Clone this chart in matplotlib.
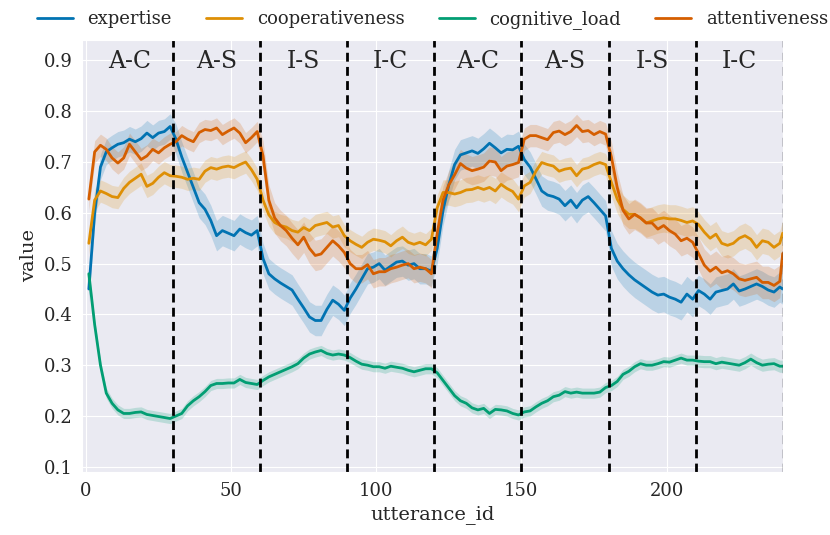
import numpy as np
import matplotlib
matplotlib.use("Agg")
import matplotlib.pyplot as plt
import seaborn as sns

# ---------------- data ----------------
utterance_id = list(range(1, 240, 2)) + [240]

expertise = [
    0.45, 0.60, 0.69, 0.72, 0.728, 0.735, 0.738, 0.745, 0.74, 0.746, 0.757, 0.748, 0.757, 0.76, 0.77,
    0.745, 0.71, 0.68, 0.65, 0.62, 0.607, 0.585, 0.555, 0.565, 0.56, 0.555, 0.568, 0.561, 0.556, 0.565,
    0.51, 0.48, 0.47, 0.462, 0.455, 0.448, 0.43, 0.413, 0.395, 0.388, 0.388, 0.41, 0.428, 0.42, 0.408,
    0.432, 0.45, 0.47, 0.49, 0.493, 0.5, 0.487, 0.495, 0.503, 0.505, 0.497, 0.5, 0.49, 0.49, 0.485,
    0.53, 0.605, 0.655, 0.695, 0.714, 0.718, 0.722, 0.717, 0.726, 0.737, 0.728, 0.718, 0.725, 0.724, 0.731,
    0.705, 0.69, 0.667, 0.643, 0.635, 0.632, 0.627, 0.614, 0.625, 0.61, 0.625, 0.632, 0.62, 0.607, 0.594,
    0.53, 0.505, 0.49, 0.478, 0.468, 0.46, 0.452, 0.444, 0.438, 0.44, 0.434, 0.43, 0.424, 0.44, 0.43,
    0.447, 0.44, 0.43, 0.444, 0.447, 0.45, 0.46, 0.446, 0.45, 0.455, 0.46, 0.455, 0.448, 0.444, 0.454,
    0.45,
]
cooperativeness = [
    0.54, 0.625, 0.643, 0.638, 0.632, 0.63, 0.648, 0.66, 0.668, 0.676, 0.652, 0.658, 0.67, 0.679, 0.673,
    0.672, 0.67, 0.666, 0.668, 0.666, 0.682, 0.689, 0.686, 0.69, 0.692, 0.689, 0.695, 0.70, 0.685, 0.666,
    0.625, 0.596, 0.581, 0.575, 0.572, 0.565, 0.562, 0.571, 0.565, 0.575, 0.578, 0.581, 0.572, 0.575, 0.555,
    0.545, 0.538, 0.532, 0.542, 0.548, 0.546, 0.543, 0.535, 0.545, 0.552, 0.542, 0.538, 0.542, 0.537, 0.548,
    0.61, 0.64, 0.64, 0.637, 0.64, 0.645, 0.646, 0.65, 0.646, 0.65, 0.643, 0.656, 0.648, 0.642, 0.627,
    0.653, 0.66, 0.682, 0.699, 0.695, 0.692, 0.682, 0.686, 0.688, 0.673, 0.686, 0.689, 0.695, 0.699, 0.695,
    0.66, 0.627, 0.607, 0.597, 0.597, 0.59, 0.58, 0.584, 0.588, 0.59, 0.588, 0.588, 0.585, 0.581, 0.584,
    0.577, 0.562, 0.55, 0.558, 0.54, 0.536, 0.54, 0.55, 0.555, 0.548, 0.532, 0.545, 0.542, 0.532, 0.54,
    0.56,
]
cognitive_load = [
    0.48, 0.38, 0.30, 0.245, 0.225, 0.212, 0.205, 0.205, 0.207, 0.208, 0.203, 0.201, 0.199, 0.197, 0.195,
    0.20, 0.205, 0.22, 0.23, 0.238, 0.248, 0.26, 0.264, 0.264, 0.265, 0.265, 0.272, 0.266, 0.264, 0.262,
    0.27, 0.277, 0.282, 0.287, 0.292, 0.297, 0.303, 0.314, 0.322, 0.326, 0.329, 0.323, 0.32, 0.322, 0.32,
    0.315, 0.308, 0.302, 0.30, 0.297, 0.297, 0.294, 0.298, 0.296, 0.294, 0.29, 0.287, 0.29, 0.293, 0.293,
    0.285, 0.27, 0.255, 0.24, 0.23, 0.225, 0.216, 0.212, 0.215, 0.205, 0.213, 0.212, 0.21, 0.205, 0.202,
    0.208, 0.21, 0.218, 0.225, 0.23, 0.238, 0.241, 0.248, 0.245, 0.247, 0.245, 0.245, 0.245, 0.247, 0.256,
    0.26, 0.268, 0.282, 0.288, 0.297, 0.303, 0.30, 0.30, 0.303, 0.307, 0.306, 0.31, 0.314, 0.31, 0.31,
    0.308, 0.307, 0.307, 0.303, 0.306, 0.304, 0.302, 0.30, 0.305, 0.312, 0.305, 0.30, 0.302, 0.303, 0.298,
    0.298,
]
attentiveness = [
    0.627, 0.72, 0.733, 0.725, 0.708, 0.698, 0.708, 0.735, 0.72, 0.705, 0.712, 0.725, 0.718, 0.728, 0.735,
    0.74, 0.752, 0.745, 0.74, 0.758, 0.764, 0.762, 0.767, 0.754, 0.761, 0.767, 0.757, 0.738, 0.748, 0.76,
    0.712, 0.625, 0.59, 0.575, 0.565, 0.55, 0.537, 0.552, 0.53, 0.516, 0.519, 0.532, 0.545, 0.535, 0.522,
    0.50, 0.49, 0.49, 0.498, 0.48, 0.484, 0.484, 0.49, 0.493, 0.497, 0.50, 0.49, 0.493, 0.49, 0.48,
    0.56, 0.625, 0.655, 0.675, 0.697, 0.688, 0.683, 0.686, 0.69, 0.702, 0.70, 0.683, 0.692, 0.695, 0.699,
    0.745, 0.752, 0.752, 0.748, 0.744, 0.758, 0.761, 0.754, 0.76, 0.772, 0.76, 0.762, 0.754, 0.76, 0.755,
    0.71, 0.65, 0.605, 0.588, 0.597, 0.59, 0.58, 0.58, 0.568, 0.575, 0.565, 0.558, 0.545, 0.55, 0.542,
    0.52, 0.497, 0.485, 0.493, 0.482, 0.486, 0.48, 0.47, 0.467, 0.47, 0.473, 0.463, 0.463, 0.457, 0.465,
    0.52,
]

# confidence-band half widths per 30-utterance phase
phase_edges = [30, 60, 90, 120, 150, 180, 210, 240]
ci_expertise = [0.025, 0.03, 0.03, 0.03, 0.03, 0.03, 0.035, 0.03]
ci_cooperativeness = [0.022, 0.022, 0.022, 0.022, 0.025, 0.022, 0.028, 0.025]
ci_cognitive_load = [0.01, 0.01, 0.01, 0.01, 0.01, 0.01, 0.01, 0.012]
ci_attentiveness = [0.022, 0.02, 0.03, 0.028, 0.028, 0.022, 0.03, 0.032]

phase_labels = ["A-C", "A-S", "I-S", "I-C", "A-C", "A-S", "I-S", "I-C"]
boundaries = [30, 60, 90, 120, 150, 180, 210]

series_names = ["expertise", "cooperativeness", "cognitive_load", "attentiveness"]
series_values = [expertise, cooperativeness, cognitive_load, attentiveness]
series_ci = [ci_expertise, ci_cooperativeness, ci_cognitive_load, ci_attentiveness]
colors = ["#0173b2", "#de8f05", "#029e73", "#d55e00"]

# ---------------- style ----------------
sns.set_style("darkgrid")
plt.rcParams["font.family"] = ["DejaVu Serif"]

fig = plt.figure(figsize=(8.3, 5.35), dpi=100)
ax = fig.add_axes([0.099, 0.118, 0.844, 0.807])

x = np.array(utterance_id, dtype=float)
phase_idx = np.searchsorted(phase_edges, x, side="left")
phase_idx = np.clip(phase_idx, 0, len(phase_edges) - 1)

for name, vals, ci, col in zip(series_names, series_values, series_ci, colors):
    y = np.array(vals)
    hw = np.array(ci)[phase_idx]
    ax.fill_between(x, y - hw, y + hw, color=col, alpha=0.2, linewidth=0)
    ax.plot(x, y, color=col, lw=2, label=name)

for b in boundaries:
    ax.axvline(b, color="black", ls="--", lw=2, dashes=(3.2, 1.9))
ax.axvline(240, color="black", ls="--", lw=2, dashes=(3.2, 1.9), alpha=0.2)

for i, lab in enumerate(phase_labels):
    ax.text(15 + 30 * i, 0.897, lab, ha="center", va="center", fontsize=17, color="#262626")

ax.set_xlim(-1.3, 240)
ax.set_ylim(0.09, 0.94)
ax.set_xticks([0, 50, 100, 150, 200])
ax.set_yticks([0.1, 0.2, 0.3, 0.4, 0.5, 0.6, 0.7, 0.8, 0.9])
ax.tick_params(labelsize=13)
ax.set_xlabel("utterance_id", fontsize=14)
ax.set_ylabel("value", fontsize=14)

ax.legend(loc="lower center", bbox_to_anchor=(0.5, 1.0), ncol=4, frameon=False,
          fontsize=13, handlelength=2.0, columnspacing=1.9, borderaxespad=0.2)

fig.savefig("out.png", dpi=100)
